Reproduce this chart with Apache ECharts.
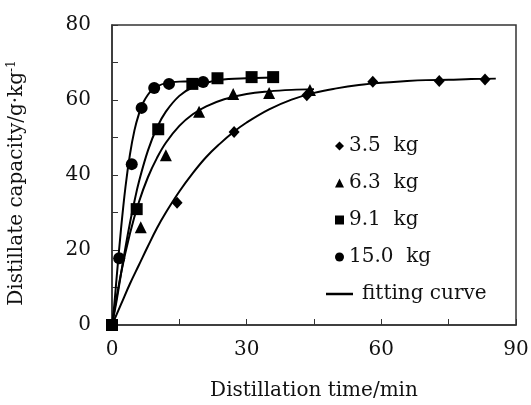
<!DOCTYPE html>
<html lang="en">
<head>
    <meta charset="UTF-8">
    <script src="https://cdn.jsdelivr.net/npm/echarts@6/dist/echarts.min.js"></script>
    <title>Distillate capacity</title>
    <style>
        html, body { margin: 0; padding: 0; background: #fff; }
        #main { width: 531px; height: 405px; }
    </style>
</head>
<body>
<div id="main"></div>
<script>
    // measured points (time in min, capacity in g/kg)
    var time35 = [14.5, 27.2, 43.4, 58.1, 72.9, 83.1];
    var cap35 = [32.6, 51.5, 61.3, 64.9, 65.1, 65.5];
    var time63 = [6.4, 12.0, 19.4, 27.0, 35.0, 44.1];
    var cap63 = [26.1, 45.3, 56.9, 61.6, 61.9, 62.7];
    var time91 = [0, 5.5, 10.3, 17.9, 23.5, 31.1, 35.9];
    var cap91 = [0, 30.9, 52.2, 64.3, 65.8, 66.1, 66.1];
    var time150 = [1.6, 4.4, 6.6, 9.4, 12.7, 20.3];
    var cap150 = [17.8, 42.9, 57.9, 63.2, 64.3, 64.8];

    // fitting curves
    var fitT35 = [0, 2, 4, 6, 8, 10, 12, 15, 18, 21, 24, 27, 30, 35, 40, 45, 50, 55, 60, 65, 70, 75, 80, 85.5];
    var fitY35 = [0, 5.5, 11.0, 16.0, 21.0, 25.8, 30.0, 35.6, 40.5, 44.8, 48.3, 51.4, 54.0, 57.5, 60.1, 61.9, 63.1, 64.0, 64.6, 65.0, 65.3, 65.4, 65.6, 65.7];
    var fitT63 = [0, 2, 4, 6, 8, 10, 12, 15, 18, 21, 25, 30, 35, 40, 45];
    var fitY63 = [0, 13.7, 24.4, 32.8, 39.4, 44.5, 48.6, 53.1, 56.2, 58.3, 60.2, 61.6, 62.3, 62.7, 62.9];
    var fitT91 = [0, 1, 2, 3, 4, 5, 6, 8, 10, 12, 15, 18, 22, 26, 30, 36];
    var fitY91 = [0, 6.3, 13.6, 20.7, 27.2, 33.0, 38.2, 46.5, 52.6, 56.9, 61.1, 63.4, 64.9, 65.6, 65.8, 66.0];
    var fitT150 = [0, 0.5, 1, 2, 3, 4, 5, 6, 7, 8, 9, 10, 12, 15, 20];
    var fitY150 = [0, 5.3, 12.2, 25.5, 36.8, 45.5, 51.9, 56.3, 59.4, 61.4, 62.8, 63.6, 64.5, 64.9, 65.0];

    var seriesNames = ['3.5  kg', '6.3  kg', '9.1  kg', '15.0  kg'];
    var fitName = 'fitting curve';

    function pairs(xs, ys) {
        return xs.map(function (x, i) { return [x, ys[i]]; });
    }

    var font = 'DejaVu Serif';
    var ink = '#111';

    var chart = echarts.init(document.getElementById('main'));

    function fitLine(xs, ys) {
        return {
            name: fitName,
            type: 'line',
            data: pairs(xs, ys),
            smooth: 0.4,
            symbol: 'none',
            lineStyle: { color: '#000', width: 2 },
            itemStyle: { color: '#000' },
            z: 2
        };
    }

    function dots(name, xs, ys, symbol, size) {
        return {
            name: name,
            type: 'scatter',
            data: pairs(xs, ys),
            symbol: symbol,
            symbolSize: size,
            itemStyle: { color: '#000', opacity: 1 },
            z: 3
        };
    }

    var option = {
        animation: false,
        backgroundColor: '#fff',
        grid: {
            left: 112, right: 15, top: 25, bottom: 80,
            outerBoundsMode: 'none',
            show: true,
            borderColor: '#333',
            borderWidth: 1.5
        },
        legend: [
            {
                data: seriesNames,
                orient: 'vertical',
                left: 330,
                top: 131,
                itemWidth: 9,
                itemHeight: 9,
                itemGap: 17,
                selectedMode: false,
                textStyle: { fontFamily: font, fontSize: 20, color: ink, lineHeight: 20 }
            },
            {
                data: [{ name: fitName, icon: 'rect' }],
                left: 321,
                top: 279,
                itemWidth: 27,
                itemHeight: 2.5,
                selectedMode: false,
                itemStyle: { color: '#000' },
                textStyle: { fontFamily: font, fontSize: 20, color: ink, lineHeight: 20, padding: [0, 0, 0, 4] }
            }
        ],
        xAxis: {
            type: 'value',
            min: 0,
            max: 90,
            interval: 15,
            name: 'Distillation time/min',
            nameLocation: 'middle',
            nameGap: 56,
            nameTextStyle: { fontFamily: font, fontSize: 20, color: ink },
            axisLine: { lineStyle: { color: '#333', width: 1.5 } },
            axisTick: { inside: true, length: 6, lineStyle: { color: '#333' } },
            axisLabel: {
                fontFamily: font, fontSize: 20, color: ink, margin: 15,
                formatter: function (v) { return v % 30 === 0 ? v : ''; }
            },
            splitLine: { show: false }
        },
        yAxis: {
            type: 'value',
            min: 0,
            max: 80,
            interval: 10,
            name: 'Distillate capacity/g·kg{sup|-1}',
            nameLocation: 'middle',
            nameGap: 84,
            nameRotate: 90,
            nameTextStyle: {
                fontFamily: font, fontSize: 20, color: ink,
                padding: [0, 16, 0, 0],
                rich: { sup: { fontFamily: font, fontSize: 12, color: ink, verticalAlign: 'top', padding: [0, 0, 10, 0] } }
            },
            axisLine: { lineStyle: { color: '#333', width: 1.5 } },
            axisTick: { inside: true, length: 6, lineStyle: { color: '#333' } },
            axisLabel: {
                fontFamily: font, fontSize: 20, color: ink, margin: 21,
                formatter: function (v) { return v % 20 === 0 ? v : ''; }
            },
            splitLine: { show: false }
        },
        series: [
            fitLine(fitT35, fitY35),
            fitLine(fitT63, fitY63),
            fitLine(fitT91, fitY91),
            fitLine(fitT150, fitY150),
            dots(seriesNames[0], time35, cap35, 'diamond', [11, 12]),
            dots(seriesNames[1], time63, cap63, 'triangle', 12),
            dots(seriesNames[3], time150, cap150, 'circle', 12),
            dots(seriesNames[2], time91, cap91, 'rect', 12)
        ]
    };
    chart.setOption(option);
</script>
</body>
</html>
